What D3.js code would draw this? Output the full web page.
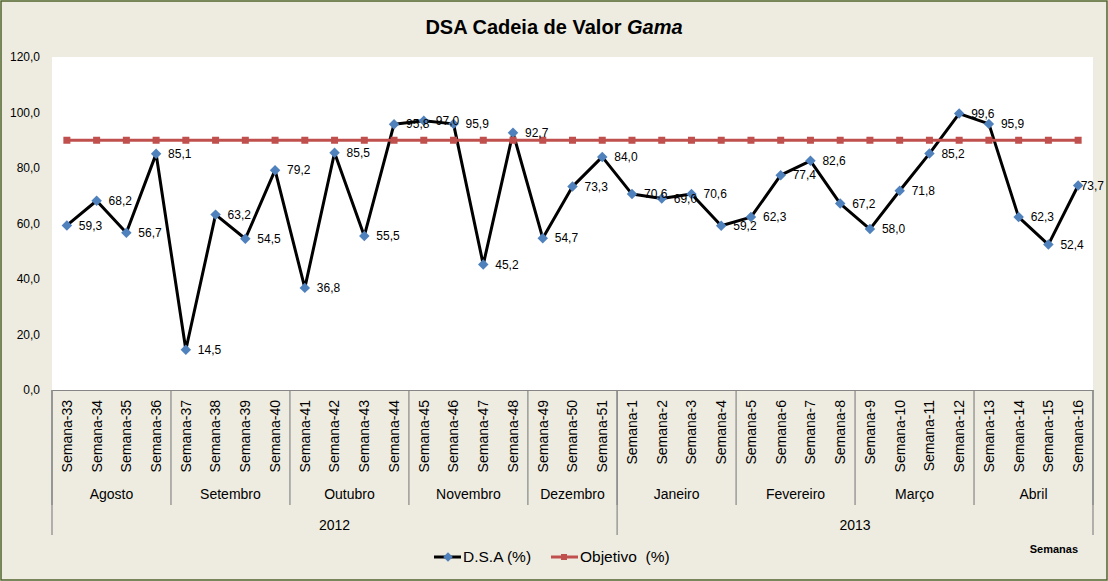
<!DOCTYPE html>
<html><head><meta charset="utf-8">
<script src="https://cdn.jsdelivr.net/npm/d3@7"></script>
<style>
body{margin:0;padding:0;background:#fff;}
svg text{font-family:"Liberation Sans",Arial,sans-serif;}
</style></head>
<body>
<svg id="chart" width="1108" height="581"></svg>
<script>
const weeks = ["Semana-33","Semana-34","Semana-35","Semana-36","Semana-37","Semana-38","Semana-39","Semana-40","Semana-41","Semana-42","Semana-43","Semana-44","Semana-45","Semana-46","Semana-47","Semana-48","Semana-49","Semana-50","Semana-51","Semana-1","Semana-2","Semana-3","Semana-4","Semana-5","Semana-6","Semana-7","Semana-8","Semana-9","Semana-10","Semana-11","Semana-12","Semana-13","Semana-14","Semana-15","Semana-16"];
const months = ["Agosto","Setembro","Outubro","Novembro","Dezembro","Janeiro","Fevereiro","Março","Abril"];
const monthWeekCounts = [4,4,4,4,3,4,4,4,4];
const years = ["2012","2013"];
const yearWeekCounts = [19,16];
const dsa = [59.3,68.2,56.7,85.1,14.5,63.2,54.5,79.2,36.8,85.5,55.5,95.8,97.0,95.9,45.2,92.7,54.7,73.3,84.0,70.6,69.0,70.6,59.2,62.3,77.4,82.6,67.2,58.0,71.8,85.2,99.6,95.9,62.3,52.4,73.7];
const objetivo = [90,90,90,90,90,90,90,90,90,90,90,90,90,90,90,90,90,90,90,90,90,90,90,90,90,90,90,90,90,90,90,90,90,90,90];
const yTicks = [0,20,40,60,80,100,120];
const seriesNames = ["D.S.A (%)","Objetivo  (%)"];
const title = "DSA Cadeia de Valor ";
const titleItalic = "Gama";
const axisTitle = "Semanas";

(function(){
const W = 1108, H = 581;
const pLeft = 52, pRight = 1093, pTop = 57, pBottom = 390;
const svg = d3.select("#chart");
const fmt = d3.formatLocale({decimal:",",thousands:".",grouping:[3],currency:["",""]}).format(".1f");

svg.append("rect").attr("x",1).attr("y",1).attr("width",W-2).attr("height",H-2)
  .attr("fill","#EEECE1").attr("stroke","#4F6228").attr("stroke-width",1.5);
svg.append("rect").attr("x",pLeft).attr("y",pTop).attr("width",pRight-pLeft).attr("height",pBottom-pTop).attr("fill","#fff");

const x = d3.scaleBand().domain(weeks).range([pLeft,pRight]).padding(0);
const cx = d => x(d) + x.bandwidth()/2;
const y = d3.scaleLinear().domain([0,120]).range([pBottom,pTop]);

// title
const t = svg.append("text").attr("x",W/2).attr("y",34).attr("text-anchor","middle")
  .style("font-size","20px").style("font-weight","bold").attr("fill","#000");
t.append("tspan").text(title);
t.append("tspan").style("font-style","italic").text(titleItalic);

// y axis
const yAxis = d3.axisLeft(y).tickValues(yTicks).tickFormat(fmt).tickSize(0).tickPadding(0);
const yg = svg.append("g").attr("transform",`translate(${pLeft-12},0)`).call(yAxis);
yg.select(".domain").remove();
yg.selectAll("text").style("font-size","12px").style("font-family","Liberation Sans, Arial").attr("fill","#000");

// x axis
const xAxis = d3.axisBottom(x).tickSize(0).tickFormat(d=>d);
const xg = svg.append("g").attr("transform",`translate(0,${pBottom})`).call(xAxis);
xg.select(".domain").attr("stroke","#868686").attr("stroke-width",1.2);
xg.selectAll(".tick text").attr("transform","rotate(-90)").attr("text-anchor","end")
  .attr("x",-10).attr("y",0).attr("dy","0.35em")
  .style("font-size","14px").style("font-family","Liberation Sans, Arial").attr("fill","#000");

// month separators and labels
let idx = 0;
const monthBounds = [0];
monthWeekCounts.forEach(c=>{ idx += c; monthBounds.push(idx); });
const boundaryX = i => i < weeks.length ? x(weeks[i]) : pRight;
monthBounds.forEach(b=>{
  svg.append("line").attr("x1",boundaryX(b)).attr("x2",boundaryX(b)).attr("y1",pBottom).attr("y2",505)
    .attr("stroke","#868686").attr("stroke-width",1.2);
});
months.forEach((m,i)=>{
  const mx = (boundaryX(monthBounds[i]) + boundaryX(monthBounds[i+1]))/2;
  svg.append("text").attr("x",mx).attr("y",499).attr("text-anchor","middle")
    .style("font-size","14px").attr("fill","#000").text(m);
});
let yi = 0; const yearBounds=[0];
yearWeekCounts.forEach(c=>{ yi += c; yearBounds.push(yi); });
yearBounds.forEach(b=>{
  svg.append("line").attr("x1",boundaryX(b)).attr("x2",boundaryX(b)).attr("y1",pBottom).attr("y2",535)
    .attr("stroke","#868686").attr("stroke-width",1.2);
});
years.forEach((yr,i)=>{
  const mx = (boundaryX(yearBounds[i]) + boundaryX(yearBounds[i+1]))/2;
  svg.append("text").attr("x",mx).attr("y",530).attr("text-anchor","middle")
    .style("font-size","14px").attr("fill","#000").text(yr);
});

// DSA line
const line = d3.line().x((d,i)=>cx(weeks[i])).y(d=>y(d));
svg.append("path").datum(dsa).attr("d",line).attr("fill","none").attr("stroke","#000")
  .attr("stroke-width",3).attr("stroke-linejoin","round");
svg.selectAll(".dm").data(dsa).enter().append("path")
  .attr("d",d3.symbol().type(d3.symbolSquare).size(55)())
  .attr("transform",(d,i)=>`translate(${cx(weeks[i])},${y(d)}) rotate(45)`)
  .attr("fill","#4F81BD");

// Objetivo line
svg.append("path").datum(objetivo).attr("d",line).attr("fill","none").attr("stroke","#C0504D")
  .attr("stroke-width",3);
svg.selectAll(".sq").data(objetivo).enter().append("rect")
  .attr("x",(d,i)=>cx(weeks[i])-3.5).attr("y",d=>y(d)-3.5).attr("width",7).attr("height",7)
  .attr("fill","#C0504D");

// labels (kept inside the chart border, as the spreadsheet does)
svg.selectAll(".lbl").data(dsa).enter().append("text")
  .attr("y",d=>y(d)).attr("dy","0.35em")
  .style("font-size","12px").attr("fill","#000").text(d=>fmt(d))
  .each(function(d,i){
    const w = this.getComputedTextLength();
    const px = Math.min(cx(weeks[i])+12, W-4-w);
    d3.select(this).attr("x",px);
  });

// legend
const ly = 557;
svg.append("line").attr("x1",434).attr("x2",461).attr("y1",ly).attr("y2",ly).attr("stroke","#000").attr("stroke-width",3);
svg.append("path").attr("d",d3.symbol().type(d3.symbolSquare).size(45)()).attr("transform",`translate(448,${ly}) rotate(45)`).attr("fill","#4F81BD");
svg.append("text").attr("x",463).attr("y",ly).attr("dy","0.35em").style("font-size","15.5px").attr("fill","#000").text(seriesNames[0]);
svg.append("line").attr("x1",551).attr("x2",578).attr("y1",ly).attr("y2",ly).attr("stroke","#C0504D").attr("stroke-width",3);
svg.append("rect").attr("x",561).attr("y",ly-3).attr("width",6).attr("height",6).attr("fill","#C0504D");
svg.append("text").attr("x",580).attr("y",ly).attr("dy","0.35em").style("font-size","15.5px").style("white-space","pre").attr("fill","#000").text(seriesNames[1]);

svg.append("text").attr("x",1078).attr("y",553).attr("text-anchor","end").style("font-size","11px").style("font-weight","bold").attr("fill","#000").text(axisTitle);
})();
</script>
</body></html>
